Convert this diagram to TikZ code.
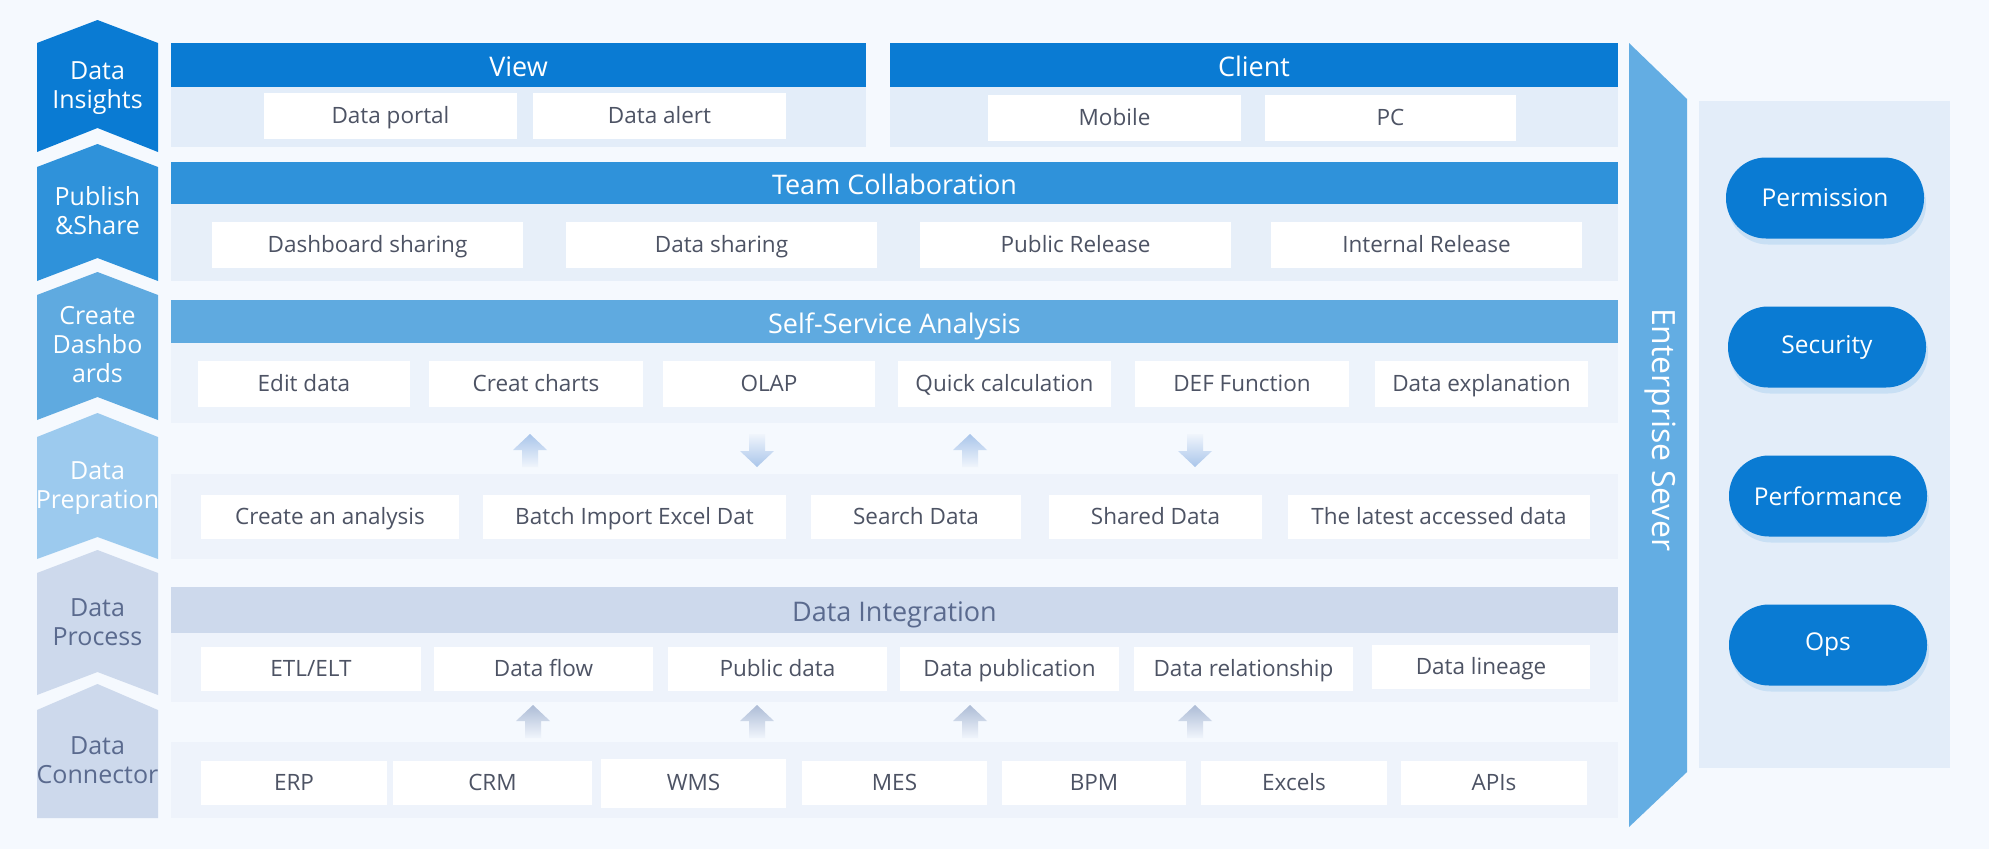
\documentclass[tikz,border=0pt]{standalone}
\usepackage{fontspec}
\setmainfont{Open Sans}
\usetikzlibrary{shadows}
\definecolor{bg}{HTML}{F5F9FE}
\definecolor{cA}{HTML}{0A7BD3}
\definecolor{cB}{HTML}{2F92DA}
\definecolor{cC}{HTML}{5FAAE0}
\definecolor{cD}{HTML}{9CCAEE}
\definecolor{cE}{HTML}{CDD9EC}
\definecolor{dtext}{HTML}{5A6A8E}
\definecolor{btext}{HTML}{4D5364}
\definecolor{bandA}{HTML}{E3EDF9}
\definecolor{bandB}{HTML}{E7EFF9}
\definecolor{bandC}{HTML}{EDF3FB}
\definecolor{bandD}{HTML}{EEF3FB}
\definecolor{panel}{HTML}{E3EDF9}
\definecolor{arrA}{HTML}{A9C5EA}
\definecolor{arrB}{HTML}{ADBCD6}
\definecolor{arrEnd}{HTML}{F0F5FC}
\definecolor{sever}{HTML}{63ADE3}
\tikzset{
 box/.style={fill=white, text=btext, inner sep=0pt, outer sep=0pt,
   font=\fontsize{22.5}{26}\selectfont, text height=16pt, text depth=2pt},
 hdr/.style={fill=#1, text=white, inner sep=0pt, outer sep=0pt,
   font=\fontsize{27}{31}\selectfont, text height=23pt, text depth=0pt},
 hdrgrey/.style={hdr=cE, text=dtext},
 chevtext/.style={text=#1, align=center, font=\fontsize{25}{29}\selectfont, inner sep=0pt},
 pill/.style={fill=cA, text=white, rounded corners=40pt, minimum width=198pt,
   minimum height=81pt, font=\fontsize{24.5}{28}\selectfont,
   drop shadow={shadow xshift=2pt, shadow yshift=-6pt, opacity=0.12, fill=cA}},
}
\newcommand\mybox[7]{%
 \pgfmathsetmacro\mbx{(#3+#5)/2}\pgfmathsetmacro\mby{(#4+#6)/2}%
 \pgfmathsetmacro\mbw{#5-#3}\pgfmathsetmacro\mbh{#6-#4}%
 \node[#1, minimum width=\mbw pt, minimum height=\mbh pt] (#2) at (\mbx,\mby) {#7};}
% chevron: apex, shoulder, bottom, notch, colour
\newcommand\chev[5]{%
 \fill[#5] (37,#2) -- (97.5,#1) -- (158,#2) -- (158,#3) -- (97.5,#4) -- (37,#3) -- cycle;}
\newcommand\uparr[4]{%
 \shade[top color=#4, bottom color=arrEnd] (#1-17,#2+16) -- (#1,#2) -- (#1+17,#2+16) -- (#1+8,#2+16) -- (#1+8,#3) -- (#1-8,#3) -- (#1-8,#2+16) -- cycle;}
\newcommand\dnarr[4]{%
 \shade[top color=arrEnd, bottom color=#4] (#1-8,#2) -- (#1+8,#2) -- (#1+8,#3-16) -- (#1+17,#3-16) -- (#1,#3) -- (#1-17,#3-16) -- (#1-8,#3-16) -- cycle;}
\begin{document}
\begin{tikzpicture}[x=1pt,y=-1pt]
\useasboundingbox (0,0) rectangle (1989,849);
\fill[bg] (0,0) rectangle (1989,849);

% ---------- left chevrons ----------
\chev{20}{43}{152}{128}{cA}
\node[chevtext=white] (lDI) at (97.5,88) {Data\\Insights};
\chev{144}{167}{281}{258}{cB}
\node[chevtext=white] (lPS) at (97.5,211) {Publish\\\&Share};
\chev{272}{295}{420}{397}{cC}
\node[chevtext=white] (lCD) at (97.5,345) {Create\\Dashbo\\ards};
\chev{413}{437}{559}{537}{cD}
\node[chevtext=white] (lDP) at (97.5,488) {Data\\Prepration};
\chev{550}{573}{695}{672}{cE}
\node[chevtext=dtext] (lPR) at (97.5,622) {Data\\Process};
\fill[cE] (37,710) -- (97.5,684) -- (158,710) -- (158,818) -- (37,818) -- cycle;
\node[chevtext=dtext] (lDC) at (97.5,760) {Data\\Connector};

% ---------- bands ----------
\fill[bandA] (171,87) rectangle (866,147);
\fill[bandA] (890,87) rectangle (1618,147);
\fill[bandB] (171,204) rectangle (1618,281);
\fill[bandC] (171,343) rectangle (1618,423);
\fill[bandD] (171,474) rectangle (1618,559);
\fill[bandD] (171,633) rectangle (1618,702);
\fill[bandD] (171,742) rectangle (1618,818);

% ---------- headers ----------
\mybox{hdr=cA}{hView}{171}{43}{866}{87}{View}
\mybox{hdr=cA}{hClient}{890}{43}{1618}{87}{Client}
\mybox{hdr=cB}{hTeam}{171}{162}{1618}{204}{Team Collaboration}
\mybox{hdr=cC}{hSelf}{171}{300}{1618}{343}{Self-Service Analysis}
\mybox{hdrgrey}{hInt}{171}{587}{1618}{633}{Data Integration}

% ---------- row 1 ----------
\mybox{box}{bPortal}{264}{93}{517}{139}{Data portal}
\mybox{box}{bAlert}{533}{93}{786}{139}{Data alert}
\mybox{box}{bMobile}{988}{95}{1241}{141}{Mobile}
\mybox{box}{bPC}{1265}{95}{1516}{141}{PC}

% ---------- row 2 ----------
\mybox{box}{bDash}{212}{222}{523}{268}{Dashboard sharing}
\mybox{box}{bDShare}{566}{222}{877}{268}{Data sharing}
\mybox{box}{bPublic}{920}{222}{1231}{268}{Public Release}
\mybox{box}{bInternal}{1271}{222}{1582}{268}{Internal Release}

% ---------- row 3 ----------
\mybox{box}{bEdit}{198}{361}{410}{407}{Edit data}
\mybox{box}{bCharts}{429}{361}{643}{407}{Creat charts}
\mybox{box}{bOLAP}{663}{361}{875}{407}{OLAP}
\mybox{box}{bQuick}{898}{361}{1111}{407}{Quick calculation}
\mybox{box}{bDEF}{1135}{361}{1349}{407}{DEF Function}
\mybox{box}{bExpl}{1375}{361}{1588}{407}{Data explanation}

% ---------- arrows 1 ----------
\uparr{530}{434}{467}{arrA}
\dnarr{757}{434}{467}{arrA}
\uparr{970}{434}{467}{arrA}
\dnarr{1195}{434}{467}{arrA}

% ---------- row 4 ----------
\mybox{box}{bCreate}{201}{495}{459}{539}{Create an analysis}
\mybox{box}{bBatch}{483}{495}{786}{539}{Batch Import Excel Dat}
\mybox{box}{bSearch}{811}{495}{1021}{539}{Search Data}
\mybox{box}{bShared}{1049}{495}{1262}{539}{Shared Data}
\mybox{box}{bLatest}{1288}{495}{1590}{539}{The latest accessed data}

% ---------- row 5 ----------
\mybox{box}{bETL}{201}{647}{421}{691}{ETL/ELT}
\mybox{box}{bFlow}{434}{647}{653}{691}{Data flow}
\mybox{box}{bPubData}{668}{647}{887}{691}{Public data}
\mybox{box}{bPublication}{900}{647}{1119}{691}{Data publication}
\mybox{box}{bRel}{1134}{647}{1353}{691}{Data relationship}
\mybox{box}{bLineage}{1372}{645}{1590}{689}{Data lineage}

% ---------- arrows 2 ----------
\uparr{533}{705}{738}{arrB}
\uparr{757}{705}{738}{arrB}
\uparr{970}{705}{738}{arrB}
\uparr{1195}{705}{738}{arrB}

% ---------- row 6 ----------
\mybox{box}{bERP}{201}{761}{387}{805}{ERP}
\mybox{box}{bCRM}{393}{761}{592}{805}{CRM}
\mybox{box}{bWMS}{601}{759}{786}{808}{WMS}
\mybox{box}{bMES}{802}{761}{987}{805}{MES}
\mybox{box}{bBPM}{1002}{761}{1186}{805}{BPM}
\mybox{box}{bExcels}{1201}{761}{1387}{805}{Excels}
\mybox{box}{bAPIs}{1401}{761}{1587}{805}{APIs}

% ---------- enterprise sever ----------
\fill[sever] (1629,43) -- (1687,99) -- (1687,772) -- (1629,827) -- cycle;
\node[text=white, rotate=-90, font=\fontsize{32}{36}\selectfont, inner sep=0pt] (sever) at (1660,430) {Enterprise Sever};

% ---------- right panel ----------
\fill[panel] (1699,101) rectangle (1950,768);
\node[pill] (pPerm) at (1825,198) {Permission};
\node[pill] (pSec) at (1827,347) {Security};
\node[pill] (pPerf) at (1828,496) {Performance};
\node[pill] (pOps) at (1828,645) {Ops};
\end{tikzpicture}
\end{document}
